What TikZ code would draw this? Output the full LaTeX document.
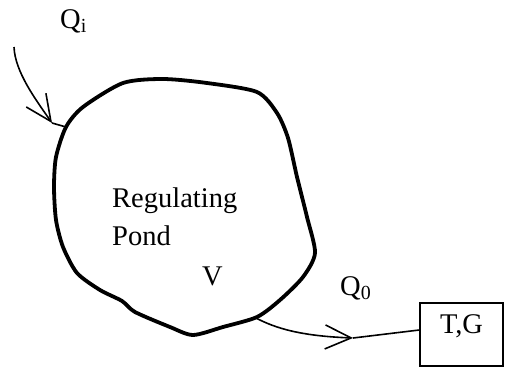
\documentclass[tikz,border=0pt]{standalone}
\usepackage{fontspec}
\setmainfont{Liberation Serif}
\usepackage{tikz}
\usetikzlibrary{positioning,arrows.meta}

\begin{document}
\begin{tikzpicture}[x=1pt, y=-1pt,
  pond/.style={draw, line width=3.8pt, line join=round},
  flow/.style={draw, line width=1.6pt},
  lbl/.style={font=\fontsize{28.5}{34}\selectfont, inner sep=0pt, anchor=base west},
  box/.style={draw, line width=1.5pt, minimum width=83pt, minimum height=63pt,
    font=\fontsize{28.5}{34}\selectfont, text height=20pt, text depth=23pt},
  >={Straight Barb[length=26pt, width=24pt, line width=1.6pt]}]
\useasboundingbox (0,0) rectangle (506,367);
% the pond
\draw[pond] plot[smooth cycle, tension=0.45] coordinates {
  (66,127) (83,107) (123,83) (163,79) (207,83) (257,92) (277,113) (288,138)
  (297,177) (307,217) (315,253) (303,277) (280,300) (257,317) (223,327)
  (193,335) (170,327) (135,312) (122,301) (100,290) (77,273) (63,247)
  (56,220) (54,187) (56,157)};
\coordinate (in) at (66,127);
\coordinate (out) at (256,318);
\coordinate (src) at (14,47);
\coordinate (ia) at (52,123);
\coordinate (oa) at (353,338);
% labels
\node[lbl] (qi) at (60,28) {Q\textsubscript{i}};
\node[lbl] (reg) at (112,207) {Regulating};
\node[lbl] (pd) at (112,245) {Pond};
\node[lbl] (v) at (202,285) {V};
\node[lbl] (qo) at (340,295) {Q\textsubscript{0}};
\node[box] (tg) at (461.5,334.5) {T,G};
% inflow and outflow
\draw[flow, ->] (src) .. controls (15,72) and (36,100) .. (ia);
\draw[flow] (ia) -- (in);
\draw[flow, ->] (out) .. controls (275,328) and (300,336) .. (oa);
\draw[flow] (oa) -- (tg.west |- 0,330);
\end{tikzpicture}
\end{document}
